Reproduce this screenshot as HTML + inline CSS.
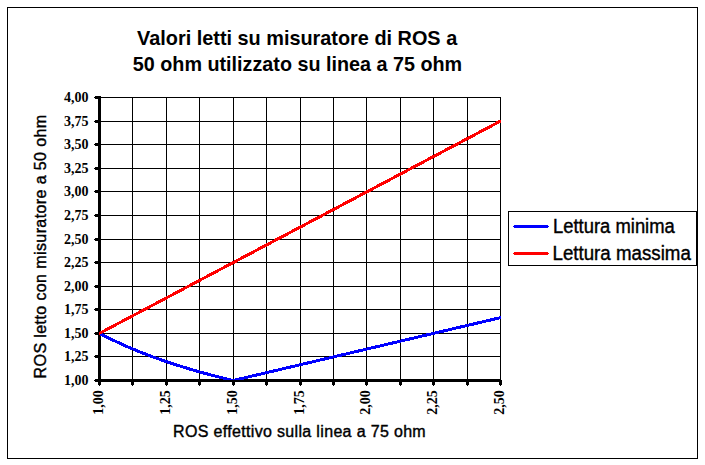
<!DOCTYPE html>
<html><head><meta charset="utf-8"><style>
html,body{margin:0;padding:0;background:#fff;}
body{width:705px;height:465px;overflow:hidden;position:relative;}
svg{position:absolute;left:0;top:0;}
.t{font-family:"Liberation Sans",sans-serif;}
.s{font-family:"Liberation Serif",serif;font-weight:bold;font-size:14px;}
</style></head><body>
<svg width="705" height="465" viewBox="0 0 705 465">
<rect x="0" y="0" width="705" height="465" fill="#fff"/>
<g fill="#000" shape-rendering="crispEdges">
<rect x="7" y="7" width="691" height="1"/><rect x="7" y="458" width="691" height="1"/>
<rect x="7" y="7" width="1" height="452"/><rect x="697" y="7" width="1" height="452"/>
</g>
<g class="t" font-weight="bold" fill="#000">
<text x="137.1" y="45.0" font-size="21" textLength="320.1" lengthAdjust="spacingAndGlyphs">Valori letti su misuratore di ROS a</text>
<text x="132.8" y="71" font-size="21" textLength="329.4" lengthAdjust="spacingAndGlyphs">50 ohm utilizzato su linea a 75 ohm</text>
</g>
<g fill="#000" shape-rendering="crispEdges">
<rect x="99" y="97" width="402" height="1"/>
<rect x="99" y="121" width="402" height="1"/>
<rect x="99" y="144" width="402" height="1"/>
<rect x="99" y="168" width="402" height="1"/>
<rect x="99" y="191" width="402" height="1"/>
<rect x="99" y="215" width="402" height="1"/>
<rect x="99" y="239" width="402" height="1"/>
<rect x="99" y="262" width="402" height="1"/>
<rect x="99" y="286" width="402" height="1"/>
<rect x="99" y="309" width="402" height="1"/>
<rect x="99" y="333" width="402" height="1"/>
<rect x="99" y="356" width="402" height="1"/>
<rect x="132" y="97" width="1" height="283"/>
<rect x="166" y="97" width="1" height="283"/>
<rect x="199" y="97" width="1" height="283"/>
<rect x="233" y="97" width="1" height="283"/>
<rect x="266" y="97" width="1" height="283"/>
<rect x="300" y="97" width="1" height="283"/>
<rect x="333" y="97" width="1" height="283"/>
<rect x="366" y="97" width="1" height="283"/>
<rect x="400" y="97" width="1" height="283"/>
<rect x="433" y="97" width="1" height="283"/>
<rect x="467" y="97" width="1" height="283"/>
<rect x="500" y="97" width="1" height="283"/>
<rect x="98" y="96" width="3" height="286"/>
<rect x="95" y="379" width="406" height="3"/><rect x="501" y="380" width="1" height="2"/>
<rect x="95" y="96" width="3" height="3"/><rect x="94" y="97" width="1" height="1"/>
<rect x="95" y="120" width="3" height="3"/><rect x="94" y="121" width="1" height="1"/>
<rect x="95" y="143" width="3" height="3"/><rect x="94" y="144" width="1" height="1"/>
<rect x="95" y="167" width="3" height="3"/><rect x="94" y="168" width="1" height="1"/>
<rect x="95" y="190" width="3" height="3"/><rect x="94" y="191" width="1" height="1"/>
<rect x="95" y="214" width="3" height="3"/><rect x="94" y="215" width="1" height="1"/>
<rect x="95" y="238" width="3" height="3"/><rect x="94" y="239" width="1" height="1"/>
<rect x="95" y="261" width="3" height="3"/><rect x="94" y="262" width="1" height="1"/>
<rect x="95" y="285" width="3" height="3"/><rect x="94" y="286" width="1" height="1"/>
<rect x="95" y="308" width="3" height="3"/><rect x="94" y="309" width="1" height="1"/>
<rect x="95" y="332" width="3" height="3"/><rect x="94" y="333" width="1" height="1"/>
<rect x="95" y="355" width="3" height="3"/><rect x="94" y="356" width="1" height="1"/>
<rect x="95" y="379" width="3" height="3"/><rect x="94" y="380" width="1" height="1"/>
<rect x="98" y="382" width="3" height="3"/><rect x="99" y="385" width="1" height="1"/>
<rect x="131" y="382" width="3" height="3"/><rect x="132" y="385" width="1" height="1"/>
<rect x="165" y="382" width="3" height="3"/><rect x="166" y="385" width="1" height="1"/>
<rect x="198" y="382" width="3" height="3"/><rect x="199" y="385" width="1" height="1"/>
<rect x="232" y="382" width="3" height="3"/><rect x="233" y="385" width="1" height="1"/>
<rect x="265" y="382" width="3" height="3"/><rect x="266" y="385" width="1" height="1"/>
<rect x="299" y="382" width="3" height="3"/><rect x="300" y="385" width="1" height="1"/>
<rect x="332" y="382" width="3" height="3"/><rect x="333" y="385" width="1" height="1"/>
<rect x="365" y="382" width="3" height="3"/><rect x="366" y="385" width="1" height="1"/>
<rect x="399" y="382" width="3" height="3"/><rect x="400" y="385" width="1" height="1"/>
<rect x="432" y="382" width="3" height="3"/><rect x="433" y="385" width="1" height="1"/>
<rect x="466" y="382" width="3" height="3"/><rect x="467" y="385" width="1" height="1"/>
<rect x="499" y="382" width="3" height="3"/><rect x="500" y="385" width="1" height="1"/>
</g>
<g class="s" fill="#000">
<text x="88.5" y="101.5" text-anchor="end">4,00</text>
<text x="88.5" y="125.5" text-anchor="end">3,75</text>
<text x="88.5" y="148.5" text-anchor="end">3,50</text>
<text x="88.5" y="172.5" text-anchor="end">3,25</text>
<text x="88.5" y="195.5" text-anchor="end">3,00</text>
<text x="88.5" y="219.5" text-anchor="end">2,75</text>
<text x="88.5" y="243.5" text-anchor="end">2,50</text>
<text x="88.5" y="266.5" text-anchor="end">2,25</text>
<text x="88.5" y="290.5" text-anchor="end">2,00</text>
<text x="88.5" y="313.5" text-anchor="end">1,75</text>
<text x="88.5" y="337.5" text-anchor="end">1,50</text>
<text x="88.5" y="360.5" text-anchor="end">1,25</text>
<text x="88.5" y="384.5" text-anchor="end">1,00</text>
<text transform="translate(102.5,390.2) rotate(-90)" text-anchor="end">1,00</text>
<text transform="translate(169.5,390.2) rotate(-90)" text-anchor="end">1,25</text>
<text transform="translate(236.5,390.2) rotate(-90)" text-anchor="end">1,50</text>
<text transform="translate(303.5,390.2) rotate(-90)" text-anchor="end">1,75</text>
<text transform="translate(369.5,390.2) rotate(-90)" text-anchor="end">2,00</text>
<text transform="translate(436.5,390.2) rotate(-90)" text-anchor="end">2,25</text>
<text transform="translate(503.5,390.2) rotate(-90)" text-anchor="end">2,50</text>
</g>
<defs><clipPath id="pc"><rect x="99" y="90" width="402" height="290"/></clipPath></defs>
<g clip-path="url(#pc)" fill="none" stroke-width="3" stroke-linejoin="round" stroke-linecap="round" shape-rendering="crispEdges">
<polyline points="99.50,333.33 112.87,340.07 126.23,346.20 139.60,351.79 152.97,356.92 166.33,361.63 179.70,365.99 193.07,370.02 206.43,373.76 219.80,377.25 233.17,380.50 246.53,377.36 259.90,374.21 273.27,371.07 286.63,367.92 300.00,364.78 313.37,361.63 326.73,358.49 340.10,355.34 353.47,352.20 366.83,349.06 380.20,345.91 393.57,342.77 406.93,339.62 420.30,336.48 433.67,333.33 447.03,330.19 460.40,327.04 473.77,323.90 487.13,320.76 500.50,317.61" stroke="#0000ff"/>
<polyline points="99.50,333.33 500.50,121.08" stroke="#ff0000"/>
</g>
<g class="t" fill="#000" stroke="#000" stroke-width="0.4">
<text transform="translate(46,378.4) rotate(-90)" font-size="16" textLength="263.6" lengthAdjust="spacing">ROS letto con misuratore a 50 ohm</text>
<text x="173" y="437" font-size="16" textLength="252.7" lengthAdjust="spacing">ROS effettivo sulla linea a 75 ohm</text>
</g>
<g shape-rendering="crispEdges">
<rect x="508" y="211" width="189" height="55" fill="#000"/>
<rect x="509" y="212" width="187" height="53" fill="#fff"/>
<rect x="514" y="225" width="34" height="3" fill="#0000ff"/><rect x="513" y="226" width="36" height="1" fill="#0000ff"/>
<rect x="514" y="252" width="34" height="3" fill="#ff0000"/><rect x="513" y="253" width="36" height="1" fill="#ff0000"/>
</g>
<g class="t" fill="#000" stroke="#000" stroke-width="0.4">
<text x="553" y="233" font-size="19.6" textLength="121.8" lengthAdjust="spacingAndGlyphs">Lettura minima</text>
<text x="552.5" y="260" font-size="19.6" textLength="138.3" lengthAdjust="spacingAndGlyphs">Lettura massima</text>
</g>
</svg>
</body></html>
